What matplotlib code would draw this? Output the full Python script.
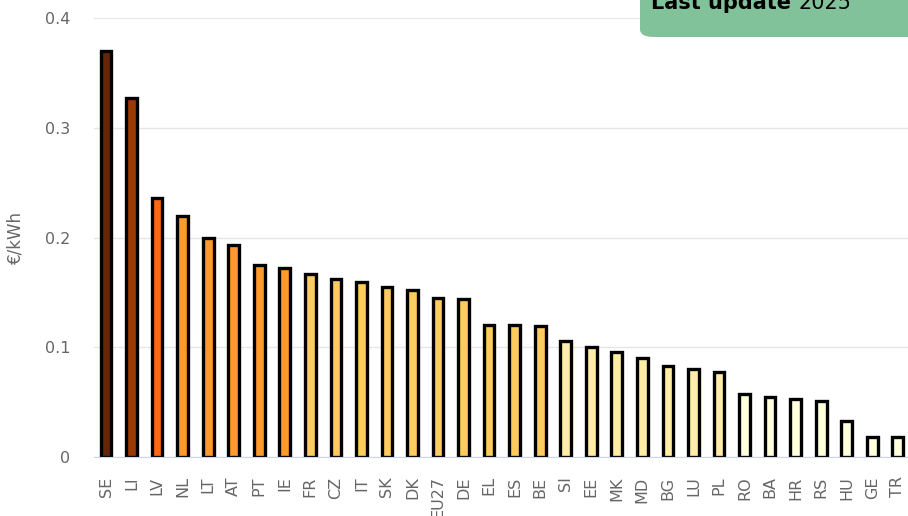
import numpy as np
import matplotlib
matplotlib.use("Agg")
import matplotlib.pyplot as plt
from matplotlib.patches import FancyBboxPatch

countries = ["SE", "LI", "LV", "NL", "LT", "AT", "PT", "IE", "FR", "CZ", "IT", "SK", "DK",
             "EU27", "DE", "EL", "ES", "BE", "SI", "EE", "MK", "MD", "BG", "LU", "PL",
             "RO", "BA", "HR", "RS", "HU", "GE", "TR"]
values = [0.370, 0.327, 0.236, 0.220, 0.200, 0.193, 0.175, 0.172, 0.167, 0.162, 0.159,
          0.155, 0.152, 0.145, 0.144, 0.120, 0.120, 0.119, 0.106, 0.100, 0.096, 0.090,
          0.083, 0.080, 0.077, 0.057, 0.055, 0.053, 0.051, 0.033, 0.018, 0.018]
# colour class per bar (index into PALETTE)
classes = [0, 1, 2, 3, 3, 3, 3, 3, 4, 4, 4, 4, 4, 4, 4, 4, 4, 4,
           5, 5, 5, 5, 5, 5, 5, 6, 6, 6, 6, 6, 6, 6]
PALETTE = ["#662506", "#9c3a05", "#fb6a0f", "#fe9a2c", "#fecb5e", "#ffeda5", "#ffffdc"]

GRID, TICK = "#e6e6e6", "#666666"

fig = plt.figure(figsize=(9.08, 5.16), dpi=100)
ax = fig.add_axes([94 / 908, (516 - 457) / 516, 1 - 94 / 908, (457 - 18) / 516])

x = np.arange(len(countries))
ax.bar(x, values, width=0.42, color=[PALETTE[c] for c in classes],
       edgecolor="black", linewidth=2.4, zorder=3)

ax.set_ylim(0, 0.4)
ax.set_xlim(-0.47, 31.4)
ax.set_yticks([0, 0.1, 0.2, 0.3, 0.4])
ax.set_yticklabels(["0", "0.1", "0.2", "0.3", "0.4"])
ax.yaxis.grid(True, color=GRID, lw=1, zorder=0)
ax.set_xticks(x)
ax.set_xticklabels(countries, rotation=90, va="top")
ax.tick_params(axis="both", length=0, colors=TICK, labelsize=11.5)
ax.tick_params(axis="y", pad=17)
ax.tick_params(axis="x", pad=14)
for s in ("top", "right", "left"):
    ax.spines[s].set_visible(False)
ax.spines["bottom"].set_color("#ccd6eb")
ax.spines["bottom"].set_zorder(4)
ax.set_ylabel("€/kWh", color=TICK, fontsize=12)
ax.yaxis.set_label_coords(-70 / 814, 0.5)

# "Last update" badge, partly off the top-right corner
box = FancyBboxPatch((640 / 908, (516 - 37) / 516), 0.5, 0.2,
                     boxstyle="round,pad=0,rounding_size=0.015",
                     transform=fig.transFigure, facecolor="#82c29a",
                     edgecolor="none", zorder=5, clip_on=False)
fig.add_artist(box)
t = fig.text(651 / 908, (516 - 9) / 516, "Last update", fontsize=15, fontweight="bold",
             color="black", va="baseline", zorder=6)
fig.canvas.draw()
bb = t.get_window_extent()
fig.text(bb.x1 / 908 + 7 / 908, (516 - 9) / 516, "2025", fontsize=15,
         color="black", va="baseline", zorder=6)

fig.savefig("out.png", dpi=100)
